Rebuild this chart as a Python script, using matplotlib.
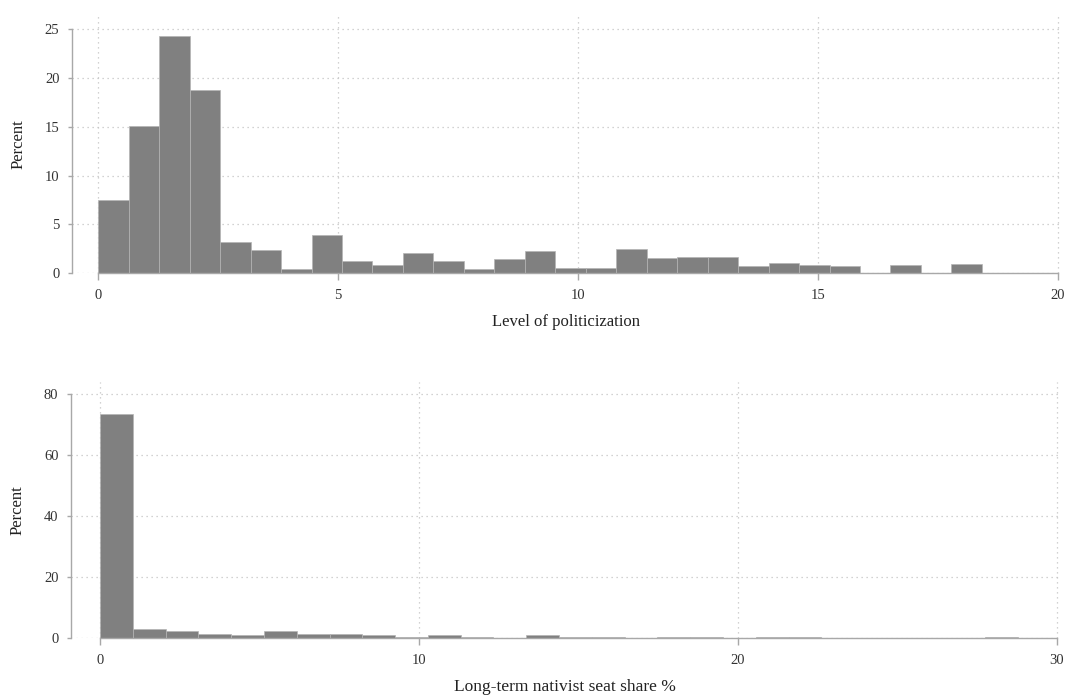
"""Histograms of politicization level and long-term nativist seat share."""

import matplotlib
matplotlib.use("Agg")
import matplotlib.pyplot as plt
import numpy as np

plt.rcParams["font.family"] = ["Liberation Serif", "DejaVu Serif"]

# Level of politicization: 29 bins
pol_start = 0.0
pol_width = 0.635
pol_percent = [7.47, 15.1, 24.3, 18.76, 3.17, 2.35, 0.41, 3.89, 1.23, 0.85,
               2.05, 1.23, 0.41, 1.46, 2.28, 0.51, 0.51, 2.52, 1.6, 1.7,
               1.7, 0.75, 1.09, 0.85, 0.75, 0.0, 0.85, 0.0, 0.98]
pol_xticks = [0, 5, 10, 15, 20]
pol_yticks = [0, 5, 10, 15, 20, 25]

# Long-term nativist seat share %: 29 bins
seat_start = 0.0
seat_width = 1.028
seat_percent = [73.4, 3.2, 2.4, 1.5, 1.2, 2.5, 1.5, 1.5, 1.3, 0.6,
                1.2, 0.55, 0.15, 1.0, 0.4, 0.4, 0.15, 0.55, 0.55, 0.1,
                0.4, 0.65, 0.3, 0.3, 0.3, 0.15, 0.2, 0.55, 0.15]
seat_xticks = [0, 10, 20, 30]
seat_yticks = [0, 20, 40, 60, 80]

BAR = "#808080"
AXIS = "#a8a8a8"
GRID = "#c4c4c4"


def histo(ax, start, width, heights, xticks, yticks, xlim, ylim, xlabel, xlabel_size):
    lefts = start + width * np.arange(len(heights))
    ax.bar(lefts, heights, width=width, align="edge", color=BAR,
           edgecolor="#b4b4b4", linewidth=0.5, zorder=2)
    ax.set_xlim(*xlim)
    ax.set_ylim(*ylim)
    ax.set_xticks(xticks)
    ax.set_yticks(yticks)
    ax.grid(True, color=GRID, linestyle=(0, (1, 3)), linewidth=0.9, zorder=0)
    ax.set_axisbelow(True)
    for side in ("top", "right"):
        ax.spines[side].set_visible(False)
    ax.spines["left"].set_bounds(yticks[0], yticks[-1])
    ax.spines["bottom"].set_bounds(xticks[0], xticks[-1])
    for side in ("left", "bottom"):
        ax.spines[side].set_color(AXIS)
        ax.spines[side].set_linewidth(1.0)
    ax.tick_params(axis="y", length=3, width=1.0, color=AXIS, pad=6,
                   labelsize=10.5, labelcolor="#333333")
    ax.tick_params(axis="x", length=5, width=1.0, color=AXIS, pad=6,
                   labelsize=10.5, labelcolor="#333333")
    ax.set_ylabel("Percent", fontsize=12, color="#222222")
    ax.yaxis.set_label_coords(-0.046, 0.5)
    ax.set_xlabel(xlabel, fontsize=xlabel_size, color="#222222")


fig = plt.figure(figsize=(10.66, 6.95), dpi=100)
ax1 = fig.add_axes([0.0675, 0.6068, 0.9265, 0.3712])
ax2 = fig.add_axes([0.0666, 0.0813, 0.9274, 0.3695])

histo(ax1, pol_start, pol_width, pol_percent, pol_xticks, pol_yticks,
      (-0.548, 20.035), (0, 26.4), "Level of politicization", 12)
ax1.xaxis.labelpad = 9

histo(ax2, seat_start, seat_width, seat_percent, seat_xticks, seat_yticks,
      (-0.909, 30.085), (0, 84.0), "Long-term nativist seat share %", 12.5)
ax2.xaxis.labelpad = 9

fig.savefig("out.png", dpi=100)
